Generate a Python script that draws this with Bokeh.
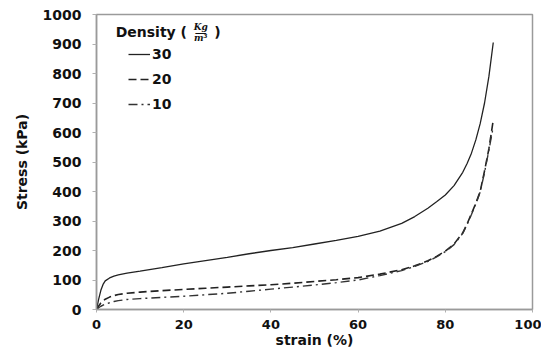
from bokeh.plotting import figure
from bokeh.models import Legend, LegendItem, Label, Range1d, FixedTicker
from bokeh.embed import file_html
from bokeh.resources import INLINE

# strain (%) and stress (kPa) for each foam density (kg/m3)
strain_30 = [0, 0.5, 1, 1.5, 2, 3, 4, 5, 7, 10, 15, 20, 25, 30, 35, 40, 45, 50, 55, 60,
             65, 70, 73, 76, 78, 80, 82, 84, 85, 86, 87, 88, 89, 90, 91]
stress_30 = [0, 35, 65, 85, 97, 107, 113, 117, 123, 130, 142, 155, 166, 177, 189, 200, 210, 222, 234, 248,
             266, 292, 315, 343, 365, 388, 420, 465, 495, 530, 575, 630, 700, 790, 905]

strain_20 = [0, 0.5, 1, 2, 3, 4, 5, 7, 10, 15, 20, 25, 30, 35, 40, 45, 50, 55, 60,
             65, 70, 73, 76, 78, 80, 82, 84, 85, 86, 87, 88, 89, 90, 91]
stress_20 = [0, 12, 22, 35, 42, 47, 51, 55, 59, 64, 68, 72, 76, 80, 84, 89, 95, 101, 108,
             120, 135, 148, 165, 180, 198, 222, 260, 290, 325, 360, 400, 470, 545, 642]

strain_10 = [0, 0.5, 1, 2, 3, 4, 5, 7, 10, 15, 20, 25, 30, 35, 40, 45, 50, 55, 60,
             65, 70, 73, 76, 78, 80, 82, 84, 85, 86, 87, 88, 89, 90, 91]
stress_10 = [0, 6, 11, 18, 23, 27, 30, 34, 37, 41, 45, 50, 55, 62, 69, 76, 83, 91, 100,
             115, 132, 146, 163, 178, 196, 220, 258, 288, 322, 358, 398, 465, 540, 620]

x_ticks = [0, 20, 40, 60, 80, 100]
y_ticks = [0, 100, 200, 300, 400, 500, 600, 700, 800, 900, 1000]
series_labels = ["30", "20", "10"]

FONT = "DejaVu Sans"

p = figure(width=541, height=350, output_backend="svg", toolbar_location=None,
           x_range=Range1d(0, 100), y_range=Range1d(0, 1000),
           min_border_left=96, min_border_right=9, min_border_top=14, min_border_bottom=40)

p.xgrid.visible = False
p.ygrid.visible = False
p.outline_line_color = "#9a9a9a"
p.outline_line_width = 1.5

for ax in (p.xaxis[0], p.yaxis[0]):
    ax.axis_line_color = "#9a9a9a"
    ax.axis_line_width = 1.5
    ax.major_tick_line_color = "#b0b0b0"
    ax.minor_tick_line_color = None
    ax.major_tick_in = 0
    ax.major_tick_out = 4
    ax.major_label_text_font = FONT
    ax.major_label_text_font_style = "bold"
    ax.major_label_text_font_size = "14px"
    ax.major_label_text_color = "#111111"
    ax.axis_label_text_font = FONT
    ax.axis_label_text_font_style = "bold"
    ax.axis_label_text_font_size = "14px"
    ax.axis_label_text_color = "#111111"

p.xaxis.ticker = FixedTicker(ticks=x_ticks)
p.yaxis.ticker = FixedTicker(ticks=y_ticks)
p.xaxis.axis_label = "strain (%)"
p.yaxis.axis_label = "Stress (kPa)"
p.xaxis.major_tick_out = 3
p.xaxis.major_label_standoff = 7
p.xaxis.axis_label_standoff = 0
p.xaxis.major_label_text_font_size = "13px"
p.yaxis.major_label_standoff = 11
p.yaxis.axis_label_standoff = 10

r30 = p.line(strain_30, stress_30, line_color="#222222", line_width=1.3)
r20 = p.line(strain_20, stress_20, line_color="#222222", line_width=1.6, line_dash="8 4")
r10 = p.line(strain_10, stress_10, line_color="#333333", line_width=1.4, line_dash="9 4 2 4")

legend = Legend(items=[LegendItem(label=series_labels[0], renderers=[r30]),
                       LegendItem(label=series_labels[1], renderers=[r20]),
                       LegendItem(label=series_labels[2], renderers=[r10])],
                location=(32, 195), border_line_color=None, background_fill_alpha=0,
                padding=0, margin=0, spacing=5, glyph_width=22, glyph_height=20,
                label_height=20, label_standoff=2,
                label_text_font=FONT, label_text_font_style="bold",
                label_text_font_size="14px", label_text_color="#111111")
p.add_layout(legend)

def lab(x, y, text, size="14px", style="bold", align="left", font=FONT):
    p.add_layout(Label(x=x, y=y, text=text, text_font=font, text_font_style=style,
                       text_font_size=size, text_align=align, text_baseline="middle",
                       text_color="#111111"))

lab(4.4, 939, "Density (")
lab(23.9, 957, "Kg", size="9px", style="bold italic", align="center", font="DejaVu Serif")
lab(23.9, 938, "\u2014", size="12px", style="normal", align="center")
lab(23.9, 919, "m\u00b3", size="9px", style="bold italic", align="center", font="DejaVu Serif")
lab(27.0, 939, ")")

open("out.html", "w").write(file_html(p, INLINE))
